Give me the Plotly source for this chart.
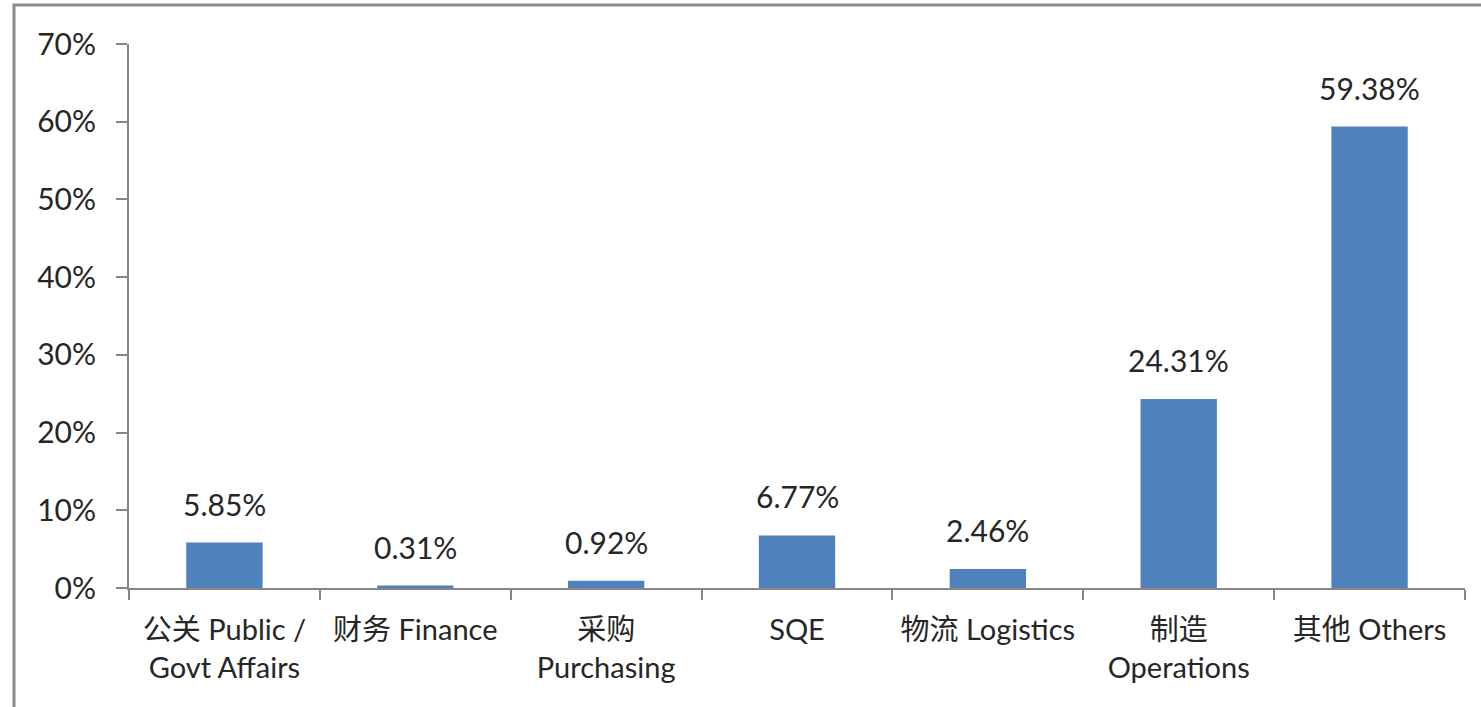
import plotly.graph_objects as go

categories = ["公关 Public /<br>Govt Affairs", "财务 Finance", "采购<br>Purchasing", "SQE",
              "物流 Logistics", "制造<br>Operations", "其他 Others"]
values = [5.85, 0.31, 0.92, 6.77, 2.46, 24.31, 59.38]
value_labels = ["5.85%", "0.31%", "0.92%", "6.77%", "2.46%", "24.31%", "59.38%"]
y_ticks = [0, 10, 20, 30, 40, 50, 60, 70]
y_tick_labels = ["0%", "10%", "20%", "30%", "40%", "50%", "60%", "70%"]

FONT = "Lato, 'Noto Sans CJK SC', sans-serif"
TEXT = "#262626"
AXIS = "#868686"

fig = go.Figure()
fig.add_trace(go.Bar(x=categories, y=values, marker=dict(color="#4F81BD", line=dict(width=0)),
                     width=0.4, hoverinfo="skip"))

for c, v, t in zip(categories, values, value_labels):
    fig.add_annotation(x=c, y=v, text=t, showarrow=False, yanchor="bottom", yshift=19,
                       font=dict(family=FONT, size=30, color=TEXT))

# plot area spans x 129..1465, y 44..588 (body margin removed below)
fig.update_layout(
    width=1481, height=707,
    margin=dict(l=129, r=16, t=44, b=119),
    paper_bgcolor="white", plot_bgcolor="white",
    showlegend=False,
    font=dict(family=FONT, size=29, color=TEXT),
    bargap=0.6,
)
fig.update_yaxes(range=[0, 70], tickvals=y_ticks, ticktext=y_tick_labels,
                 showgrid=False, zeroline=False, showline=True, linecolor=AXIS, linewidth=2,
                 ticks="outside", ticklen=11, tickwidth=2, tickcolor=AXIS,
                 ticklabelstandoff=14, tickfont=dict(family=FONT, size=30, color=TEXT))
fig.update_xaxes(showgrid=False, showline=True, linecolor=AXIS, linewidth=2,
                 ticks="outside", tickson="boundaries", ticklen=10, tickwidth=2, tickcolor=AXIS,
                 ticklabelstandoff=15, tickfont=dict(family=FONT, size=29, color=TEXT))

# outer chart frame
fig.add_shape(type="rect", xref="paper", yref="paper",
              x0=(14 - 129) / 1336, x1=(1500 - 129) / 1336,
              y0=-(730 - 588) / 544, y1=1 + (44 - 5) / 544,
              line=dict(color="#8C8C8C", width=3), layer="below")

fig.write_html("out.html", config={"displayModeBar": False},
               post_script="document.body.style.margin='0';document.body.style.overflow='hidden';")
